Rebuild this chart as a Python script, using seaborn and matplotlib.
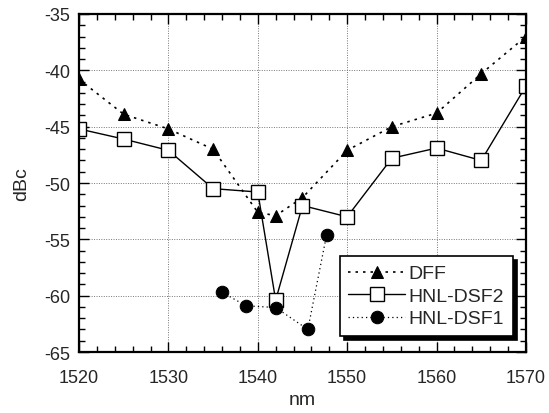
import matplotlib
matplotlib.use("Agg")
import matplotlib.pyplot as plt
import seaborn as sns
import numpy as np
from matplotlib.ticker import MultipleLocator

dff_x = [1520, 1525, 1530, 1535, 1540, 1542, 1545, 1550, 1555, 1560, 1565, 1570]
dff_y = [-40.8, -43.9, -45.2, -47.0, -52.6, -52.9, -51.3, -47.1, -45.0, -43.8, -40.3, -37.0]

dsf2_x = [1520, 1525, 1530, 1535, 1540, 1542, 1545, 1550, 1555, 1560, 1565, 1570]
dsf2_y = [-45.2, -46.1, -47.1, -50.5, -50.8, -60.4, -52.0, -53.0, -47.8, -46.9, -48.0, -41.4]

dsf1_x = [1536, 1538.7, 1542, 1545.6, 1547.7]
dsf1_y = [-59.7, -60.9, -61.05, -63.0, -54.6]

sns.set_style("white")
plt.rcParams['font.family'] = ['Liberation Sans', 'DejaVu Sans']
plt.rcParams['axes.unicode_minus'] = False

fig = plt.figure(figsize=(5.49, 4.14), dpi=100)
ax = fig.add_axes([0.1439, 0.1473, 0.958 - 0.1439, 0.9638 - 0.1473])

sns.lineplot(x=dff_x, y=dff_y, ax=ax, color='black', linestyle=(0, (1.5, 3)), linewidth=1.2,
             marker='^', markersize=8, markerfacecolor='black', markeredgecolor='black',
             label='DFF', sort=False)
sns.lineplot(x=dsf2_x, y=dsf2_y, ax=ax, color='black', linestyle='-', linewidth=1.0,
             marker='s', markersize=10, markerfacecolor='white', markeredgecolor='black',
             markeredgewidth=1.0, label='HNL-DSF2', sort=False)
sns.lineplot(x=dsf1_x, y=dsf1_y, ax=ax, color='black', linestyle=(0, (1, 2.5)), linewidth=0.9,
             marker='o', markersize=9, markerfacecolor='black', markeredgecolor='black',
             label='HNL-DSF1', sort=False)

ax.set_xlim(1520, 1570)
ax.set_ylim(-65, -35)
ax.xaxis.set_major_locator(MultipleLocator(10))
ax.xaxis.set_minor_locator(MultipleLocator(2))
ax.yaxis.set_major_locator(MultipleLocator(5))
ax.yaxis.set_minor_locator(MultipleLocator(1))
ax.tick_params(which='both', direction='in', top=True, right=True, bottom=True, left=True,
               color='black', width=1.0)
ax.tick_params(which='major', length=7, labelsize=13)
ax.tick_params(axis='x', which='major', pad=12)
ax.tick_params(axis='y', which='major', pad=6.5)
ax.tick_params(which='minor', length=4)
ax.grid(True, which='major', color='#777777', linestyle=(0, (1, 1.5)), linewidth=0.7)
for s in ax.spines.values():
    s.set_color('black')
    s.set_linewidth(1.6)

ax.set_xlabel('nm', fontsize=14, labelpad=4)
ax.set_ylabel('dBc', fontsize=14, labelpad=10)

leg = ax.legend(loc='lower right', bbox_to_anchor=(0.971, 0.047), borderaxespad=0,
                fontsize=14, frameon=True,
                fancybox=False, shadow={'color': 'black', 'alpha': 1.0, 'ox': 3, 'oy': -3},
                handlelength=2.9, borderpad=0.45, labelspacing=0.25, handletextpad=0.2)
leg.get_frame().set_edgecolor('black')
leg.get_frame().set_linewidth(1.2)
leg.get_frame().set_facecolor('white')
leg.get_frame().set_alpha(1.0)

fig.savefig('out.png', dpi=100)
